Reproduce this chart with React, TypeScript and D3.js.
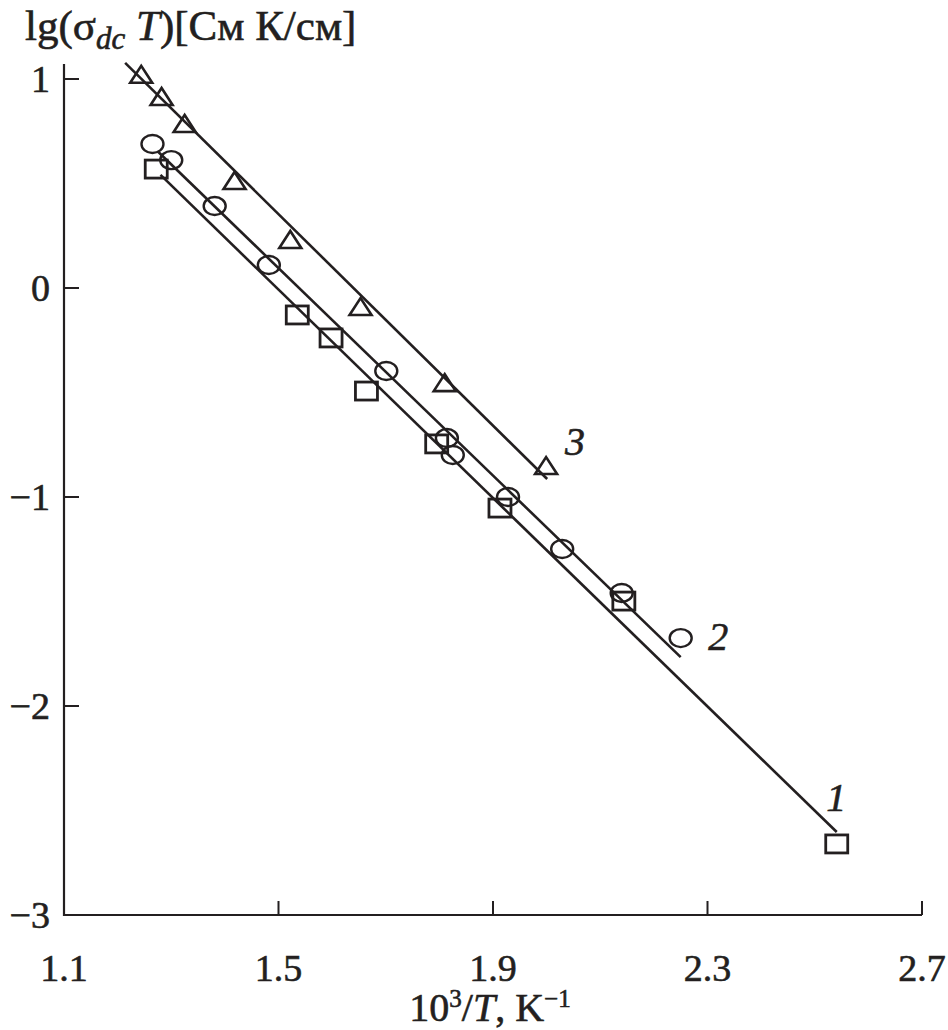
import React from "react";
import * as d3 from "d3";

const xTicks = [1.1, 1.5, 1.9, 2.3, 2.7];
const yTicks = [1, 0, -1, -2, -3];

const squaresX = [1.272, 1.535, 1.598, 1.664, 1.795, 1.913, 2.144, 2.541];
const squaresY = [0.569, -0.129, -0.239, -0.493, -0.746, -1.053, -1.498, -2.66];

const circlesX = [1.265, 1.3, 1.381, 1.482, 1.701, 1.814, 1.825, 1.928, 2.029, 2.14, 2.25];
const circlesY = [0.689, 0.612, 0.392, 0.11, -0.397, -0.718, -0.799, -1.0, -1.249, -1.459, -1.675];

const trianglesX = [1.244, 1.282, 1.325, 1.418, 1.522, 1.653, 1.81, 1.999];
const trianglesY = [1.02, 0.914, 0.785, 0.512, 0.23, -0.091, -0.455, -0.852];

// fitted lines: [x0, y0, x1, y1]
const line1 = [1.28, 0.541, 2.541, -2.603];
const line2 = [1.276, 0.651, 2.25, -1.766];
const line3 = [1.214, 1.077, 2.001, -0.914];

const curveLabels = ["1", "2", "3"];
const labelPosX = [2.54, 2.32, 2.053];
const labelPosY = [-2.5, -1.73, -0.8];

export default function App() {
  const x = d3.scaleLinear().domain([1.1, 2.7]).range([64, 922]);
  const y = d3.scaleLinear().domain([0, 1]).range([288, 79]);
  const font = "'Liberation Serif', 'Times New Roman', serif";
  const stroke = "#231f20";
  const lines = [line1, line2, line3];
  const tri = (cx: number, cy: number) =>
    `M${cx - 11},${cy + 8} L${cx + 11},${cy + 8} L${cx},${cy - 9} Z`;
  const textStyle = { stroke: stroke, strokeWidth: 0.6 };
  return (
    <svg width={948} height={1030} style={{ display: "block", position: "absolute", left: 0, top: 0 }}>
      <rect width={948} height={1030} fill="#fff" />
      {/* axes */}
      <path d={`M${x(1.1)},64 L${x(1.1)},${y(-3)} L${x(2.7)},${y(-3)}`} fill="none" stroke={stroke} strokeWidth={2.2} />
      {xTicks.slice(1).map((t) => (
        <line key={"xt" + t} x1={x(t)} x2={x(t)} y1={y(-3)} y2={y(-3) - 14} stroke={stroke} strokeWidth={2} />
      ))}
      {yTicks.slice(0, 4).map((t) => (
        <line key={"yt" + t} x1={x(1.1)} x2={x(1.1) + 15} y1={y(t)} y2={y(t)} stroke={stroke} strokeWidth={2} />
      ))}
      {xTicks.map((t) => (
        <text key={"xl" + t} x={x(t)} y={981} fontFamily={font} fontSize={38} textAnchor="middle" fill={stroke} style={textStyle}>
          {t.toFixed(1)}
        </text>
      ))}
      {yTicks.map((t) => (
        <text key={"yl" + t} x={50} y={y(t) + 13} fontFamily={font} fontSize={38} textAnchor="end" fill={stroke} style={textStyle}>
          {t < 0 ? "\u2212" + Math.abs(t) : String(t)}
        </text>
      ))}
      {/* titles */}
      <text x={25} y={40} fontFamily={font} fontSize={43} fill={stroke} style={textStyle}>
        lg(σ<tspan fontStyle="italic" fontSize={31} dy={9}>dc</tspan>
        <tspan dy={-9}> </tspan>
        <tspan fontStyle="italic">T</tspan>)[См К/см]
      </text>
      <text x={490} y={1021} fontFamily={font} fontSize={40} textAnchor="middle" fill={stroke} style={textStyle}>
        10<tspan fontSize={25} dy={-14}>3</tspan>
        <tspan dy={14}>/</tspan>
        <tspan fontStyle="italic">T</tspan>, K<tspan fontSize={25} dy={-14}>−1</tspan>
      </text>
      {/* fit lines */}
      {lines.map((l, i) => (
        <line key={"l" + i} x1={x(l[0])} y1={y(l[1])} x2={x(l[2])} y2={y(l[3])} stroke={stroke} strokeWidth={2.6} />
      ))}
      {/* markers */}
      {squaresX.map((v, i) => (
        <rect key={"s" + i} x={x(v) - 11} y={y(squaresY[i]) - 9} width={22} height={18} fill="none" stroke={stroke} strokeWidth={2.8} />
      ))}
      {circlesX.map((v, i) => (
        <ellipse key={"c" + i} cx={x(v)} cy={y(circlesY[i])} rx={11} ry={9} fill="none" stroke={stroke} strokeWidth={2.4} />
      ))}
      {trianglesX.map((v, i) => (
        <path key={"t" + i} d={tri(x(v), y(trianglesY[i]))} fill="none" stroke={stroke} strokeWidth={2.6} />
      ))}
      {curveLabels.map((c, i) => (
        <text key={"cl" + c} x={x(labelPosX[i])} y={y(labelPosY[i])} fontFamily={font} fontStyle="italic" fontSize={40} textAnchor="middle" fill={stroke} style={textStyle}>
          {c}
        </text>
      ))}
    </svg>
  );
}
